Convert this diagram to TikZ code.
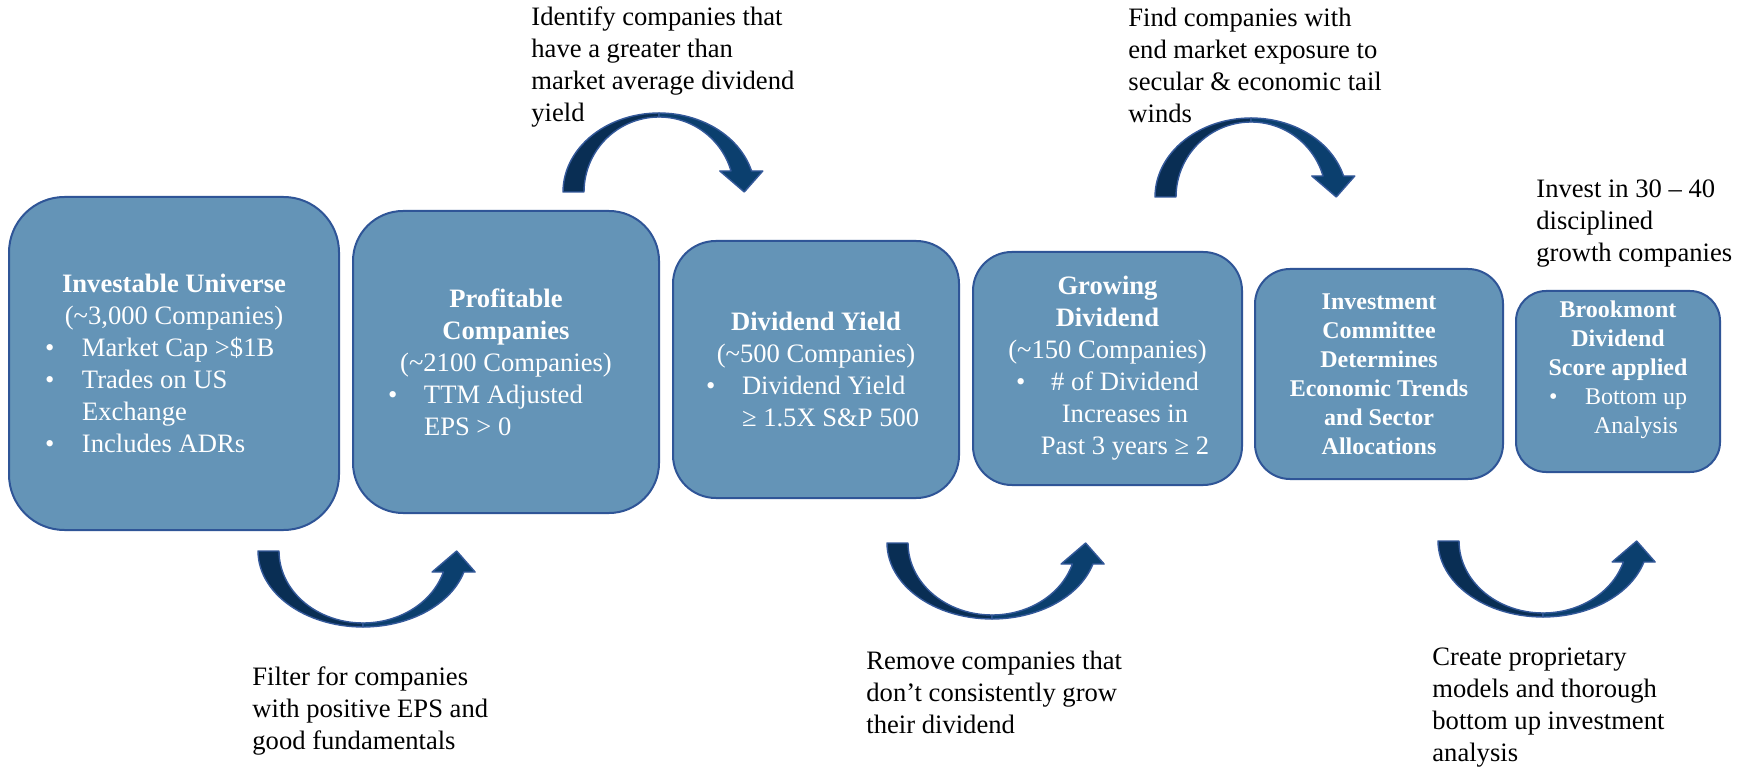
\documentclass[tikz,border=0pt]{standalone}
\usepackage{fontspec}
\setmainfont{Liberation Serif}
\definecolor{boxfill}{HTML}{6494B7}
\definecolor{boxline}{HTML}{2F5597}
\definecolor{arrdark}{HTML}{092E54}
\definecolor{arrmain}{HTML}{0B3F6E}
\definecolor{arrline}{HTML}{34599A}
\tikzset{
  stage/.style={draw=boxline, line width=1pt, fill=boxfill, text=white, align=center, inner sep=0pt},
  bigtxt/.style={font=\fontsize{13.3}{16}\selectfont},
  smalltxt/.style={font=\fontsize{12}{14.5}\selectfont},
  note/.style={font=\fontsize{13.3}{16}\selectfont, align=left, anchor=base west, inner sep=0pt, text=black},
  arrpart/.style={draw=arrline, line width=0.7pt, line join=round}
}
\newcommand{\atl}[2]{\makebox[0pt][l]{\hspace{#1}#2}}
\newcommand{\atc}[2]{\makebox[0pt]{\hspace{#1}\hspace{#1}#2}}
\newcommand{\bendarrow}[4]{%
\begin{scope}[shift={#1}, x=0.5pt, y=#2]
\pgfmathsetmacro{\arAi}{#3-21}
\pgfmathsetmacro{\arBi}{#4-4}
\pgfmathsetmacro{\arTo}{360-asin(21/#4)}
\pgfmathsetmacro{\arTi}{360-asin(21/\arBi)}
\pgfmathsetmacro{\arXo}{#3+#3*cos(\arTo)}
\pgfmathsetmacro{\arXi}{#3+\arAi*cos(\arTi)}
\pgfmathsetmacro{\arXc}{(\arXo+\arXi)/2}
\filldraw[arrpart, fill=arrdark] (0,0) -- plot[domain=180:270, samples=30] ({#3+#3*cos(\x)},{#4*sin(\x)}) -- plot[domain=270:180, samples=30] ({#3+\arAi*cos(\x)},{\arBi*sin(\x)}) -- cycle;
\filldraw[arrpart, fill=arrmain] plot[domain=270:\arTo, samples=30] ({#3+#3*cos(\x)},{#4*sin(\x)}) -- (\arXc+21.5,-21) -- (\arXc+3,0) -- (\arXc-21.5,-21) -- (\arXi,-21) -- plot[domain=\arTi:270, samples=30] ({#3+\arAi*cos(\x)},{\arBi*sin(\x)}) -- cycle;
\end{scope}}
\begin{document}
\begin{tikzpicture}[x=0.5pt, y=-0.5pt]
\fill[white] (0,0) rectangle (1748,769);
\useasboundingbox (0,0) rectangle (1748,769);

% stages
\node[stage, bigtxt, minimum width=165pt, minimum height=166.5pt, rounded corners=27.7pt] (b1) at (174,363.5)
 {{\bfseries Investable Universe}\\
  (\textasciitilde3,000 Companies)\\
  \atl{-64.5pt}{\textbullet}\atl{-46pt}{Market Cap >\$1B}\\
  \atl{-64.5pt}{\textbullet}\atl{-46pt}{Trades on US}\\
  \atl{-46pt}{Exchange}\\
  \atl{-64.5pt}{\textbullet}\atl{-46pt}{Includes ADRs}};
\node[stage, bigtxt, minimum width=153pt, minimum height=151pt, rounded corners=25pt] (b2) at (506,362)
 {{\bfseries Profitable}\\
  {\bfseries Companies}\\
  (\textasciitilde2100 Companies)\\
  \atl{-59pt}{\textbullet}\atl{-41pt}{TTM Adjusted}\\
  \atl{-41pt}{EPS > 0}};
\node[stage, bigtxt, minimum width=143pt, minimum height=128.5pt, rounded corners=21.4pt] (b3) at (816,369.5)
 {{\bfseries Dividend Yield}\\
  (\textasciitilde500 Companies)\\
  \atl{-55pt}{\textbullet}\atl{-37pt}{Dividend Yield}\\
  \atl{-37pt}{≥ 1.5X S\&P 500}};
\node[stage, bigtxt, minimum width=134.5pt, minimum height=116.5pt, rounded corners=19.4pt] (b4) at (1107.5,368.5)
 {{\bfseries Growing}\\
  {\bfseries Dividend}\\
  (\textasciitilde150 Companies)\\
  \atl{-45.75pt}{\textbullet}\atc{8.75pt}{\# of Dividend}\\
  \atc{8.75pt}{Increases in}\\
  \atc{8.75pt}{Past 3 years ≥ 2}};
\node[stage, smalltxt, minimum width=124pt, minimum height=105pt, rounded corners=17.5pt] (b5) at (1379,374)
 {\bfseries Investment\\
  \bfseries Committee\\
  \bfseries Determines\\
  \bfseries Economic Trends\\
  \bfseries and Sector\\
  \bfseries Allocations};
\node[stage, smalltxt, minimum width=102pt, minimum height=90.5pt, rounded corners=15pt] (b6) at (1618,381.5)
 {{\bfseries Brookmont}\\
  {\bfseries Dividend}\\
  {\bfseries Score applied}\\
  \atl{-34.5pt}{\textbullet}\atc{9pt}{Bottom up}\\
  \atc{9pt}{Analysis}\\
  \mbox{}};

% curved arrows
\coordinate (a1) at (563,192);
\coordinate (a2) at (1155,197);
\coordinate (a3) at (258,551);
\coordinate (a4) at (887,543);
\coordinate (a5) at (1438,541);
\bendarrow{(a1)}{-0.5pt}{96}{79}
\bendarrow{(a2)}{-0.5pt}{96}{79}
\bendarrow{(a3)}{0.5pt}{105}{76}
\bendarrow{(a4)}{0.5pt}{105}{76}
\bendarrow{(a5)}{0.5pt}{105}{76}

% notes (base anchor = baseline of the last line)
\node[note] (n1) at (531,122) {Identify companies that\\have a greater than\\market average dividend\\yield};
\node[note] (n2) at (1128,123) {Find companies with\\end market exposure to\\secular \& economic tail\\winds};
\node[note] (n3) at (1536,262) {Invest in 30 – 40\\disciplined\\growth companies};
\node[note] (n4) at (252,749) {Filter for companies\\with positive EPS and\\good fundamentals};
\node[note] (n5) at (866,733) {Remove companies that\\don’t consistently grow\\their dividend};
\node[note] (n6) at (1432,761) {Create proprietary\\models and thorough\\bottom up investment\\analysis};
\end{tikzpicture}
\end{document}
